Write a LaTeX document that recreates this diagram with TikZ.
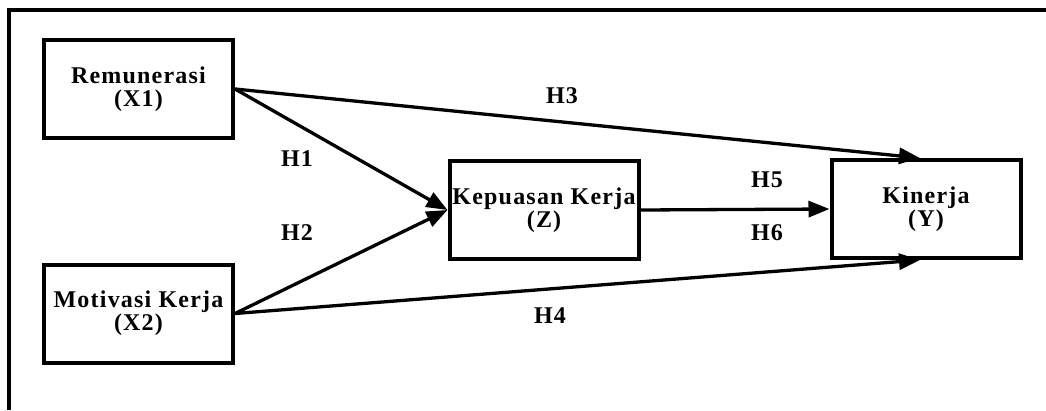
\documentclass[tikz,border=0pt]{standalone}
\usepackage{fontspec}
\setmainfont{Liberation Serif}[LetterSpace=5]
\usetikzlibrary{arrows.meta}
\tikzset{
  varbox/.style={draw, line width=4pt, rectangle, minimum width=189pt, minimum height=98pt, align=center, inner sep=0pt, font=\fontsize{24}{23}\selectfont\bfseries},
  link/.style={line width=3.3pt, -{Triangle[length=21pt,width=16pt]}},
  hlab/.style={font=\fontsize{24}{23}\selectfont\bfseries, inner sep=0pt},
  frameline/.style={line width=3.5pt}
}
\begin{document}
\begin{tikzpicture}[x=1pt,y=-1pt]
\useasboundingbox (0,0) rectangle (1046,410);
\coordinate (ftop) at (1046,10);
\coordinate (fcorner) at (9,10);
\coordinate (fbot) at (9,410);
\draw[frameline] (ftop) -- (fcorner) -- (fbot);
\node[varbox] (R) at (138.5,89) {Remunerasi\\(X1)};
\node[varbox] (M) at (138.5,313.5) {Motivasi Kerja\\(X2)};
\node[varbox] (K) at (544,210) {Kepuasan Kerja\\(Z)};
\node[varbox] (Y) at (926,209) {Kinerja\\(Y)};
\draw[link] (R.east) -- (K.west);
\draw[link] (M.east) -- (K.west);
\draw[link] (R.east) -- ([xshift=-6pt]Y.north);
\draw[link] (M.east) -- ([xshift=-6pt]Y.south);
\draw[link] (K.east) -- (Y.west);
\node[hlab] (h1) at (297,159) {H1};
\node[hlab] (h2) at (297,233) {H2};
\node[hlab] (h3) at (562,96) {H3};
\node[hlab] (h4) at (550,316) {H4};
\node[hlab] (h5) at (767,180) {H5};
\node[hlab] (h6) at (767,233) {H6};
\end{tikzpicture}
\end{document}
